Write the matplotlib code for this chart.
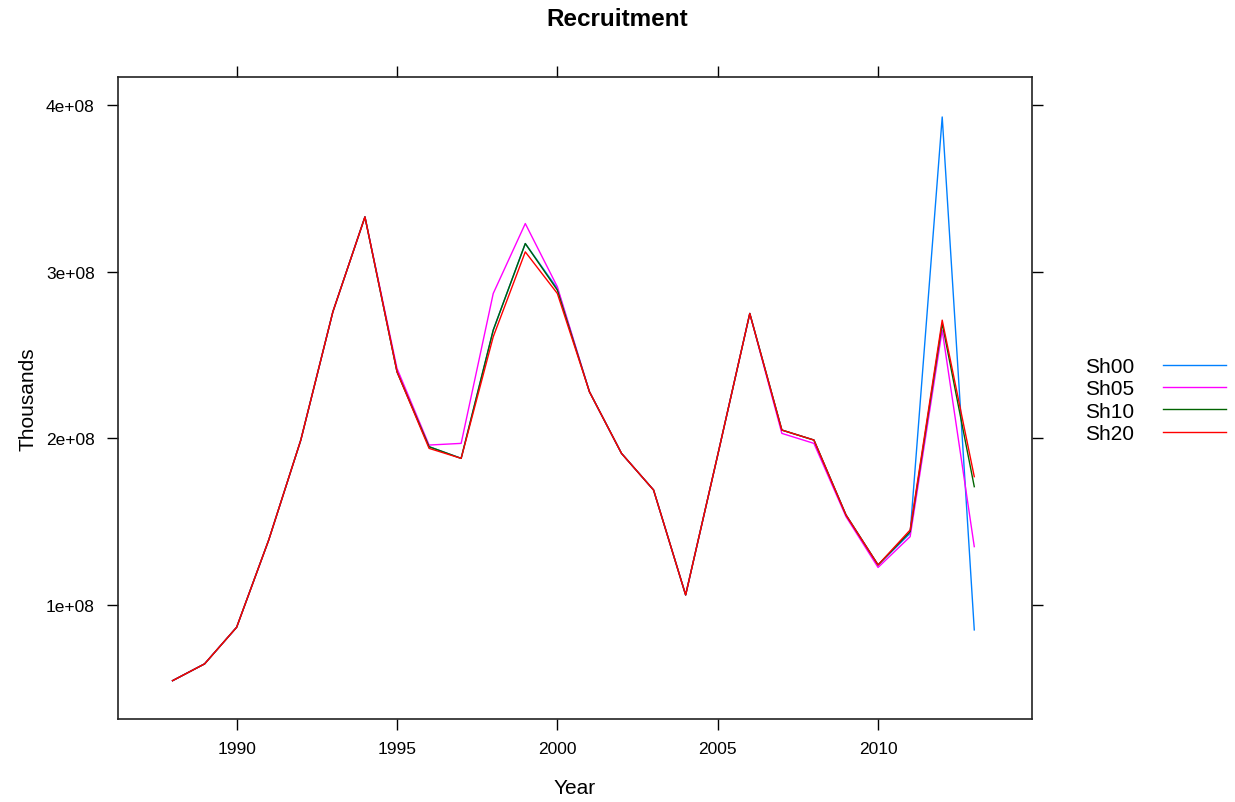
import numpy as np
import matplotlib
matplotlib.use("Agg")
import matplotlib.pyplot as plt

plt.rcParams['font.family'] = ['Liberation Sans', 'DejaVu Sans']

# datos (en unidades de 1e8)
years = list(range(1988, 2014))
sh00 = [0.545, 0.646, 0.866, 1.39, 1.99, 2.76, 3.33, 2.40, 1.95, 1.88, 2.65, 3.17, 2.90,
        2.28, 1.91, 1.69, 1.06, 1.90, 2.75, 2.05, 1.99, 1.54, 1.24, 1.43, 3.93, 0.85]
sh05 = [0.545, 0.646, 0.866, 1.39, 1.99, 2.76, 3.33, 2.42, 1.96, 1.97, 2.87, 3.29, 2.91,
        2.28, 1.91, 1.69, 1.06, 1.90, 2.75, 2.03, 1.97, 1.53, 1.225, 1.41, 2.65, 1.35]
sh10 = [0.545, 0.646, 0.866, 1.39, 1.99, 2.76, 3.33, 2.40, 1.95, 1.88, 2.65, 3.17, 2.89,
        2.28, 1.91, 1.69, 1.06, 1.90, 2.75, 2.05, 1.99, 1.54, 1.24, 1.44, 2.69, 1.71]
sh20 = [0.545, 0.646, 0.866, 1.39, 1.99, 2.76, 3.33, 2.40, 1.94, 1.88, 2.61, 3.12, 2.87,
        2.28, 1.91, 1.69, 1.06, 1.90, 2.75, 2.05, 1.99, 1.54, 1.24, 1.45, 2.71, 1.77]
series = ['Sh00', 'Sh05', 'Sh10', 'Sh20']
colores = ['#0080ff', '#ff00ff', '#006400', '#ff0000']

x_ticks = [1990, 1995, 2000, 2005, 2010]
y_ticks = [1e8, 2e8, 3e8, 4e8]
y_labels = ['1e+08', '2e+08', '3e+08', '4e+08']

fig = plt.figure(figsize=(12.35, 8.03), dpi=100)
ax = fig.add_axes([118 / 1235, 83 / 803, 914 / 1235, 642 / 803])

for nombre, datos, col in zip(series, [sh00, sh05, sh10, sh20], colores):
    ax.plot(years, np.array(datos) * 1e8, color=col, linewidth=1.0, label=nombre)

ax.set_xlim(1986.3, 2014.8)
ax.set_ylim(0.315e8, 4.17e8)
ax.set_xticks(x_ticks)
ax.set_xticklabels([str(t) for t in x_ticks])
ax.set_yticks(y_ticks)
ax.set_yticklabels(y_labels)
ax.tick_params(direction='out', length=7.7, width=1.0, labelsize=12.5,
               top=True, right=True, labeltop=False, labelright=False)
ax.tick_params(axis='x', pad=8)
ax.tick_params(axis='y', pad=9)
for s in ax.spines.values():
    s.set_linewidth(1.2)
    s.set_color('#222222')

ax.set_xlabel('Year', fontsize=15, labelpad=16)
ax.set_ylabel('Thousands', fontsize=15, labelpad=6)
fig.text(0.5, 1 - 19 / 803, 'Recruitment', ha='center', va='center',
         fontsize=17.5, fontweight='bold')

fig.legend(loc='center left', bbox_to_anchor=(1085 / 1235, 1 - 401 / 803),
           frameon=False, markerfirst=False, fontsize=15, handlelength=3.0,
           handletextpad=1.4, labelspacing=0.16, borderpad=0, borderaxespad=0)

fig.savefig('out.png', dpi=100)
